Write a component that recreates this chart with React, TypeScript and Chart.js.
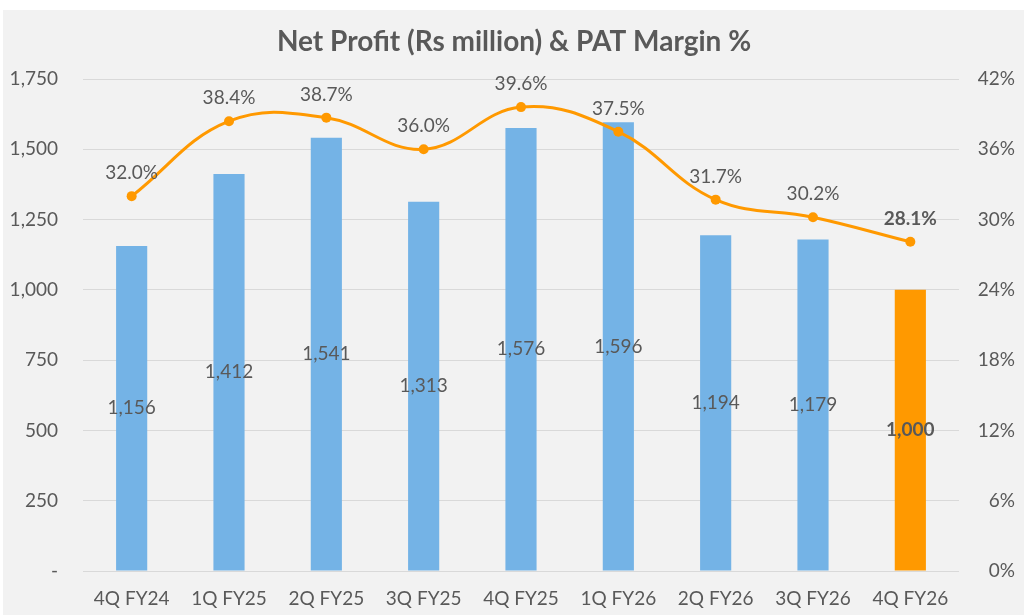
import React, { useEffect, useRef } from 'react'
import Chart from 'chart.js/auto'

const quarters = [
  '4Q FY24',
  '1Q FY25',
  '2Q FY25',
  '3Q FY25',
  '4Q FY25',
  '1Q FY26',
  '2Q FY26',
  '3Q FY26',
  '4Q FY26',
]
const netProfit = [1156, 1412, 1541, 1313, 1576, 1596, 1194, 1179, 1000]
const patMargin = [32.0, 38.4, 38.7, 36.0, 39.6, 37.5, 31.7, 30.2, 28.1]

const FONT = 'Lato, "Open Sans", sans-serif'
const TEXT = '#595959'
const BLUE = '#74B3E6'
const ORANGE = '#FF9900'

const labelsPlugin = {
  id: 'labels',
  afterDatasetsDraw(chart: any) {
    const ctx = chart.ctx
    const last = quarters.length - 1
    ctx.save()
    ctx.fillStyle = TEXT
    ctx.textAlign = 'center'
    ctx.textBaseline = 'middle'

    const bars = chart.getDatasetMeta(1).data
    bars.forEach((bar: any, i: number) => {
      ctx.font = `${i === last ? 'bold ' : ''}19px ${FONT}`
      const y = (bar.y + bar.base) / 2
      ctx.fillText(netProfit[i].toLocaleString('en-US'), bar.x, y)
    })

    const points = chart.getDatasetMeta(0).data
    points.forEach((pt: any, i: number) => {
      ctx.font = `${i === last ? 'bold ' : ''}19px ${FONT}`
      ctx.fillText(patMargin[i].toFixed(1) + '%', pt.x, pt.y - 23)
    })

    ctx.font = `bold 28px ${FONT}`
    ctx.fillText('Net Profit (Rs million) & PAT Margin %', 511, 32)
    ctx.restore()
  },
}

const App: React.FC = () => {
  const chartRef = useRef<HTMLCanvasElement | null>(null)
  const chartInstance = useRef<Chart | null>(null)

  useEffect(() => {
    if (!chartRef.current) return
    if (chartInstance.current) chartInstance.current.destroy()
    const ctx = chartRef.current.getContext('2d')
    if (!ctx) return

    chartInstance.current = new Chart(ctx, {
      type: 'bar',
      data: {
        labels: quarters,
        datasets: [
          {
            type: 'line',
            data: patMargin,
            yAxisID: 'y1',
            borderColor: ORANGE,
            backgroundColor: ORANGE,
            borderWidth: 3,
            pointRadius: 5,
            pointBackgroundColor: ORANGE,
            pointBorderWidth: 0,
            tension: 0.4,
            order: 1,
          },
          {
            type: 'bar',
            data: netProfit,
            yAxisID: 'y',
            backgroundColor: netProfit.map((_, i) =>
              i === netProfit.length - 1 ? ORANGE : BLUE
            ),
            categoryPercentage: 1,
            barPercentage: 0.32,
            order: 2,
          },
        ],
      } as any,
      options: {
        animation: false,
        responsive: true,
        maintainAspectRatio: false,
        layout: { padding: { top: 69, right: 9, left: 0, bottom: 0 } },
        plugins: {
          legend: { display: false },
          tooltip: { enabled: false },
        },
        scales: {
          x: {
            grid: { display: false, drawTicks: false },
            border: { display: false },
            ticks: {
              color: TEXT,
              font: { family: FONT, size: 19 },
              padding: 16,
              maxRotation: 0,
            },
            afterFit: (s: any) => {
              s.height = 44
            },
          },
          y: {
            position: 'left',
            min: 0,
            max: 1750,
            border: { display: false },
            grid: { color: '#D9D9D9', lineWidth: 1, drawTicks: false },
            ticks: {
              stepSize: 250,
              color: TEXT,
              font: { family: FONT, size: 19 },
              padding: 25,
              callback: (v: any) =>
                v === 0 ? '-' : Number(v).toLocaleString('en-US'),
            },
            afterFit: (s: any) => {
              s.width = 80
            },
          },
          y1: {
            position: 'right',
            min: 0,
            max: 42,
            border: { display: false },
            grid: { display: false, drawTicks: false },
            ticks: {
              stepSize: 6,
              color: TEXT,
              font: { family: FONT, size: 19 },
              crossAlign: 'far',
              padding: 19,
              callback: (v: any) => `${v}%`,
            },
            afterFit: (s: any) => {
              s.width = 56
            },
          },
        },
      } as any,
      plugins: [labelsPlugin],
    })

    return () => {
      if (chartInstance.current) chartInstance.current.destroy()
    }
  }, [])

  return (
    <div style={{ position: 'fixed', inset: 0, width: 1024, height: 615, background: '#fff' }}>
      <div
        style={{
          position: 'absolute',
          left: 3,
          top: 10,
          width: 1021,
          height: 605,
          background: '#F2F2F2',
        }}
      >
        <canvas ref={chartRef} />
      </div>
    </div>
  )
}

export default App
